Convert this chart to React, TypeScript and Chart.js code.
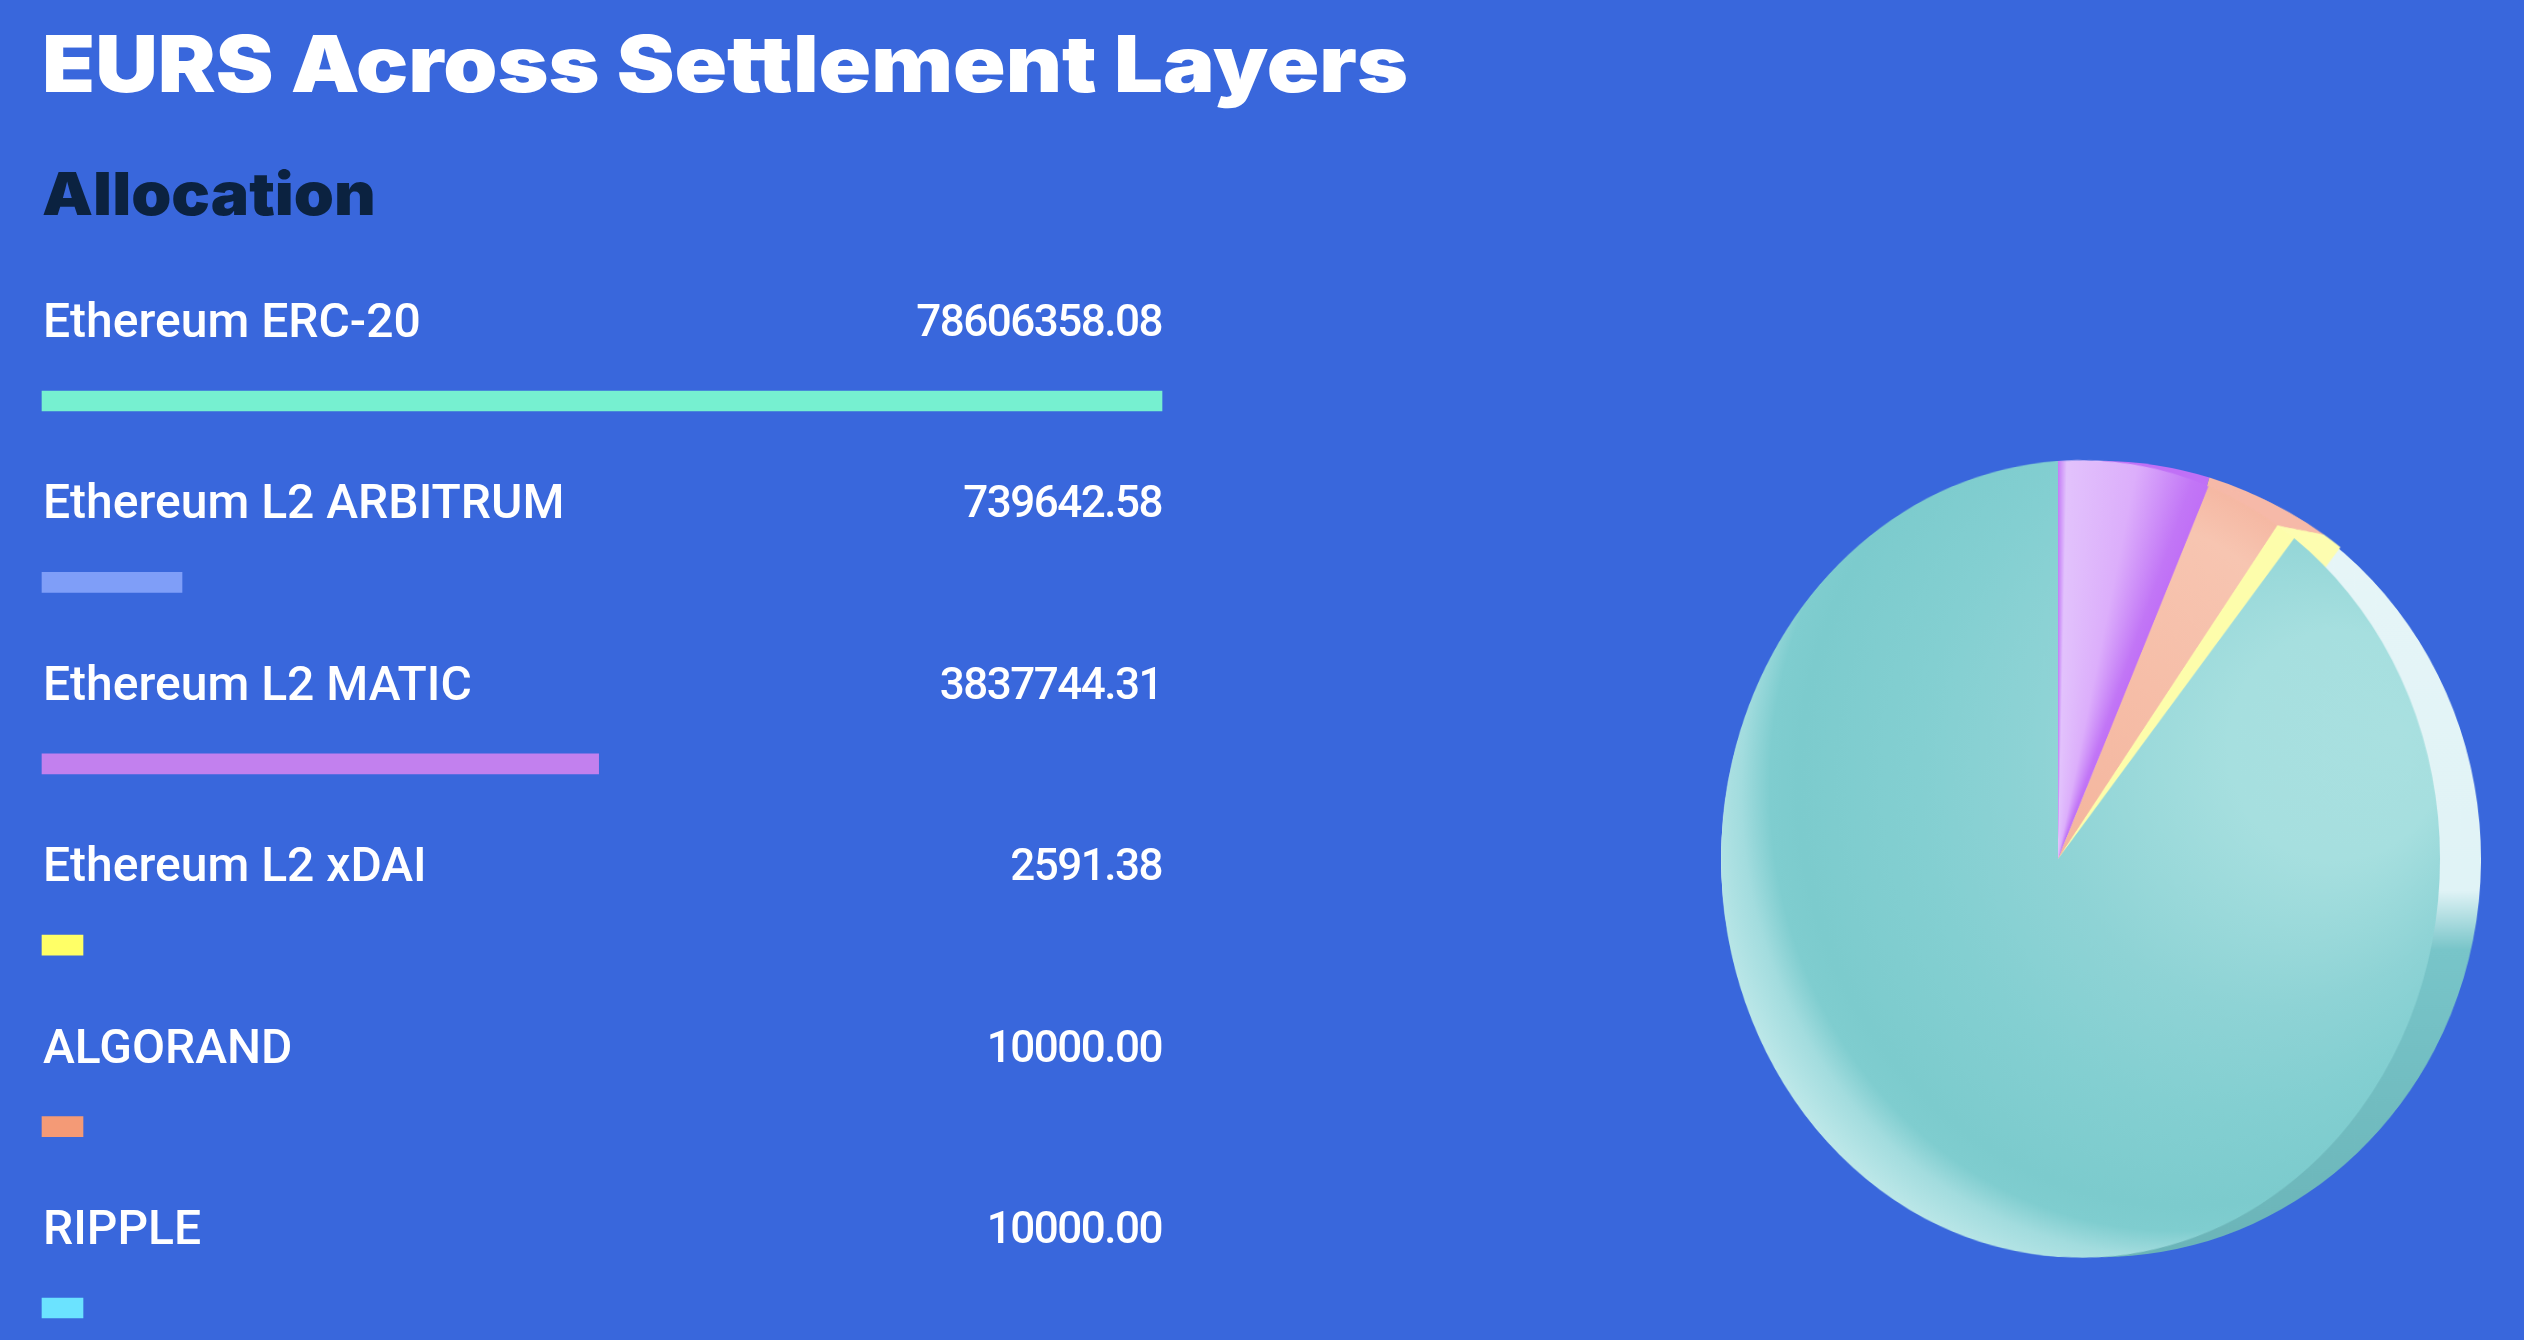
import React, { useEffect, useRef } from "react";
import { Chart, registerables } from "chart.js";

Chart.register(...registerables);

const TITLE = "EURS Across Settlement Layers";
const SUBTITLE = "Allocation";

const rowLabels = ["Ethereum ERC-20", "Ethereum L2 ARBITRUM", "Ethereum L2 MATIC", "Ethereum L2 xDAI", "ALGORAND", "RIPPLE"];
const rowValues = [78606358.08, 739642.58, 3837744.31, 2591.38, 10000.0, 10000.0];
const barLevels = [100, 12.5, 49.7, 3.66, 3.66, 3.66];
const barColors = ["#76f0d0", "#7f9ef8", "#c280ee", "#ffff66", "#f49a76", "#6be3ff"];

const pieLabels = ["Ethereum L2 MATIC", "ALGORAND", "Ethereum L2 xDAI", "Ethereum ERC-20"];
const faceShares = [6.72, 3.33, 0.87, 89.08];
const rimShares = [4.6, 3.35, 0, 92.05];

const BG = "#3967dc";

const teal = (ctx: CanvasRenderingContext2D, w: number, h: number) => {
  const cx = w / 2, cy = h / 2, R = w / 2;
  const g = ctx.createRadialGradient(cx + 0.9 * R, cy - 0.3 * R, 0, cx + 70, cy - 70, R + 100);
  g.addColorStop(0, "#a9e0e0");
  g.addColorStop(0.22, "#a6dfdf");
  g.addColorStop(0.48, "#8ed3d5");
  g.addColorStop(0.66, "#83cfd1");
  g.addColorStop(0.84, "#7ccbcd");
  g.addColorStop(0.885, "#7fcdcf");
  g.addColorStop(0.93, "#a2dcde");
  g.addColorStop(1, "#bee8e9");
  return g;
};

const purple = (ctx: CanvasRenderingContext2D, w: number, h: number) => {
  const g = (ctx as any).createConicGradient(-Math.PI / 2, w / 2, h / 2);
  g.addColorStop(0, "#c47cf6");
  g.addColorStop(0.004, "#e2c2fc");
  g.addColorStop(0.035, "#dcaefb");
  g.addColorStop(0.06, "#c276f6");
  g.addColorStop(0.0672, "#c070f6");
  g.addColorStop(1, "#c47cf6");
  return g;
};

const orange = (ctx: CanvasRenderingContext2D, w: number, h: number) => {
  const g = ctx.createRadialGradient(w / 2, h / 2, 0, w / 2, h / 2, w / 2);
  g.addColorStop(0, "#f4b59d");
  g.addColorStop(0.5, "#f6bea8");
  g.addColorStop(0.88, "#f7c5b1");
  g.addColorStop(1, "#f5b8a3");
  return g;
};

const rimTeal = (ctx: CanvasRenderingContext2D, h: number) => {
  const g = ctx.createLinearGradient(0, 0, 0, h);
  g.addColorStop(0, "#e8f6f8");
  g.addColorStop(0.54, "#e0f3f6");
  g.addColorStop(0.614, "#78c5c9");
  g.addColorStop(1, "#6bb4b8");
  return g;
};

const pieOptions: any = {
  responsive: false,
  animation: false,
  devicePixelRatio: 1,
  layout: { padding: 0 },
  plugins: { legend: { display: false }, tooltip: { enabled: false }, title: { display: false } },
  elements: { arc: { borderWidth: 0 } },
};

const rowText = {
  id: "rowText",
  afterDatasetsDraw(chart: any) {
    const { ctx, chartArea } = chart;
    const bars = chart.getDatasetMeta(0).data;
    ctx.save();
    ctx.fillStyle = "#ffffff";
    ctx.textBaseline = "alphabetic";
    bars.forEach((bar: any, i: number) => {
      const base = bar.y - 64;
      ctx.font = "500 48px Roboto";
      ctx.textAlign = "left";
      (ctx as any).letterSpacing = "0px";
      ctx.fillText(rowLabels[i], chartArea.left + 1, base);
      ctx.font = "500 44px Roboto";
      ctx.textAlign = "right";
      (ctx as any).letterSpacing = "-1.5px";
      ctx.fillText(rowValues[i].toFixed(2), chartArea.right, base - 1);
    });
    ctx.restore();
  },
};

// the side wall of the small slices: the slices' own arcs, repeated along the extrusion
const sweep = {
  id: "sweep",
  beforeDatasetsDraw(chart: any) {
    const arcs = chart.getDatasetMeta(0).data;
    const { ctx } = chart;
    [1, 2].forEach((idx) => {
      for (let k = 1; k <= 40; k++) {
        ctx.save();
        ctx.translate((k * 47) / 40, (k * 11) / 40);
        arcs[idx].draw(ctx);
        ctx.restore();
      }
    });
  },
};

export default function App() {
  const barRef = useRef<HTMLCanvasElement>(null);
  const rimRef = useRef<HTMLCanvasElement>(null);
  const wallRef = useRef<HTMLCanvasElement>(null);
  const faceRef = useRef<HTMLCanvasElement>(null);

  useEffect(() => {
    const bars = new Chart(barRef.current!, {
      type: "bar",
      data: {
        labels: rowLabels,
        datasets: [{ data: barLevels, backgroundColor: barColors, barThickness: 20, clip: false as any }],
      },
      options: {
        indexAxis: "y",
        responsive: false,
        animation: false,
        devicePixelRatio: 1,
        layout: { padding: { left: 42, right: 138, top: 401, bottom: 32 } },
        plugins: { legend: { display: false }, tooltip: { enabled: false } },
        scales: {
          x: { display: false, min: 0, max: 100 },
          y: { display: false, offset: false, grid: { display: false } },
        },
      } as any,
      plugins: [rowText],
    });

    const rim = new Chart(rimRef.current!, {
      type: "pie",
      data: {
        labels: pieLabels,
        datasets: [{
          data: rimShares,
          backgroundColor: (c: any) =>
            ["#c070f6", "#f6b9a8", "#fdfdb0", rimTeal(c.chart.ctx, c.chart.height)][c.dataIndex],
        }],
      },
      options: pieOptions,
    });

    const wall = new Chart(wallRef.current!, {
      type: "pie",
      data: {
        labels: pieLabels,
        datasets: [{
          data: faceShares,
          backgroundColor: ["rgba(0,0,0,0)", "#f6b9a8", "#fdfdb0", "rgba(0,0,0,0)"],
        }],
      },
      options: pieOptions,
      plugins: [sweep],
    });

    const face = new Chart(faceRef.current!, {
      type: "pie",
      data: {
        labels: pieLabels,
        datasets: [{
          data: faceShares,
          backgroundColor: (c: any) => {
            const { ctx, width, height } = c.chart;
            return [purple(ctx, width, height), orange(ctx, width, height), "#fdfdab", teal(ctx, width, height)][c.dataIndex];
          },
        }],
      },
      options: pieOptions,
    });

    return () => {
      bars.destroy();
      rim.destroy();
      wall.destroy();
      face.destroy();
    };
  }, []);

  const tilt = "perspective(2763px) rotateY(-25.9deg)";
  const faceBox: React.CSSProperties = { position: "absolute", left: 2058 - 398, top: 859 - 398, transform: tilt };

  return (
    <div style={{ position: "fixed", inset: 0, background: BG, overflow: "hidden" }}>
      <h1 style={{ position: "absolute", left: 42, top: 16, margin: 0, font: "900 78px/96px Inter", color: "#fff", whiteSpace: "nowrap", transform: "scaleX(1.112)", transformOrigin: "left center" }}>{TITLE}</h1>
      <h2 style={{ position: "absolute", left: 42, top: 158, margin: 0, font: "900 59px/72px Inter", color: "#0b2240", whiteSpace: "nowrap", transform: "scaleX(1.09)", transformOrigin: "left center" }}>{SUBTITLE}</h2>
      <canvas ref={barRef} width={1300} height={1340} style={{ position: "absolute", left: 0, top: 0 }} />
      <canvas ref={rimRef} width={796} height={796} style={{ position: "absolute", left: 2101 - 398, top: 859 - 398, transform: `scaleX(${760 / 796})` }} />
      <canvas ref={wallRef} width={796} height={796} style={faceBox} />
      <canvas ref={faceRef} width={796} height={796} style={faceBox} />
    </div>
  );
}
